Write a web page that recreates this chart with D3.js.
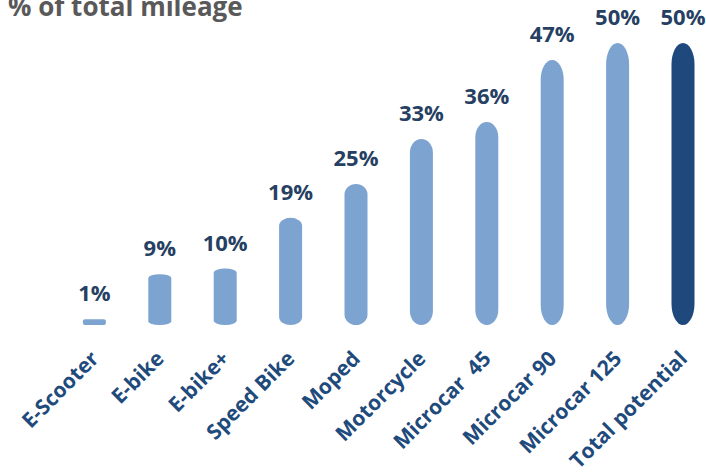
<!DOCTYPE html>
<html>
<head>
<meta charset="utf-8">
<script src="https://cdn.jsdelivr.net/npm/d3@7/dist/d3.min.js"></script>
<style>
  html, body { margin: 0; padding: 0; background: #fff; }
  svg { display: block; }
  text { font-family: "Open Sans", "DejaVu Sans", sans-serif; font-weight: 700; white-space: pre; }
</style>
</head>
<body>
<svg id="chart" width="706" height="474"></svg>
<script>
const categories = ["E-Scooter", "E-bike", "E-bike+", "Speed Bike", "Moped", "Motorcycle", "Microcar  45", "Microcar 90", "Microcar 125", "Total potential"];
const values = [1, 9, 10, 19, 25, 33, 36, 47, 50, 50];
const valueLabels = ["1%", "9%", "10%", "19%", "25%", "33%", "36%", "47%", "50%", "50%"];
const highlight = ["Total potential"];
const title = "% of total mileage";

const svg = d3.select("#chart");
const baseY = 325, topY = 43;
const barW = 23;

const x = d3.scalePoint().domain(categories).range([94.4, 683]);
const y = d3.scaleLinear().domain([0, 50]).range([baseY, topY]);

// title
svg.append("text")
  .attr("x", 8).attr("y", 16)
  .attr("font-size", 26)
  .attr("fill", "#595959")
  .text(title);

const data = categories.map((c, i) => ({ c, v: values[i], label: valueLabels[i] }));

// bars (capsules)
svg.append("g").selectAll("rect").data(data).join("rect")
  .attr("x", d => x(d.c) - barW / 2)
  .attr("y", d => y(d.v))
  .attr("width", barW)
  .attr("height", d => baseY - y(d.v))
  .attr("rx", d => (baseY - y(d.v)) < 12 ? 2 : barW / 2)
  .attr("ry", d => (baseY - y(d.v)) < 12 ? 2 : (baseY - y(d.v)) * 0.075)
  .attr("fill", d => highlight.includes(d.c) ? "#1F497D" : "#7DA3D0");

// value labels
svg.append("g").selectAll("text").data(data).join("text")
  .attr("x", d => x(d.c))
  .attr("y", d => y(d.v) - 18)
  .attr("text-anchor", "middle")
  .attr("font-size", 22)
  .attr("fill", "#263F63")
  .text(d => d.label);

// axis labels rotated
const axis = d3.axisBottom(x).tickSize(0).tickPadding(0);
const gAxis = svg.append("g").attr("transform", `translate(0,${baseY})`).call(axis);
gAxis.select(".domain").remove();
gAxis.selectAll(".tick text")
  .attr("font-size", 21)
  .attr("font-family", "'Open Sans', 'DejaVu Sans', sans-serif")
  .attr("font-weight", 700)
  .attr("fill", "#1F4A7C")
  .attr("text-anchor", "end")
  .attr("dy", 0)
  .attr("x", 0).attr("y", 0)
  .attr("transform", "translate(5,35) rotate(-45)");
</script>
</body>
</html>
